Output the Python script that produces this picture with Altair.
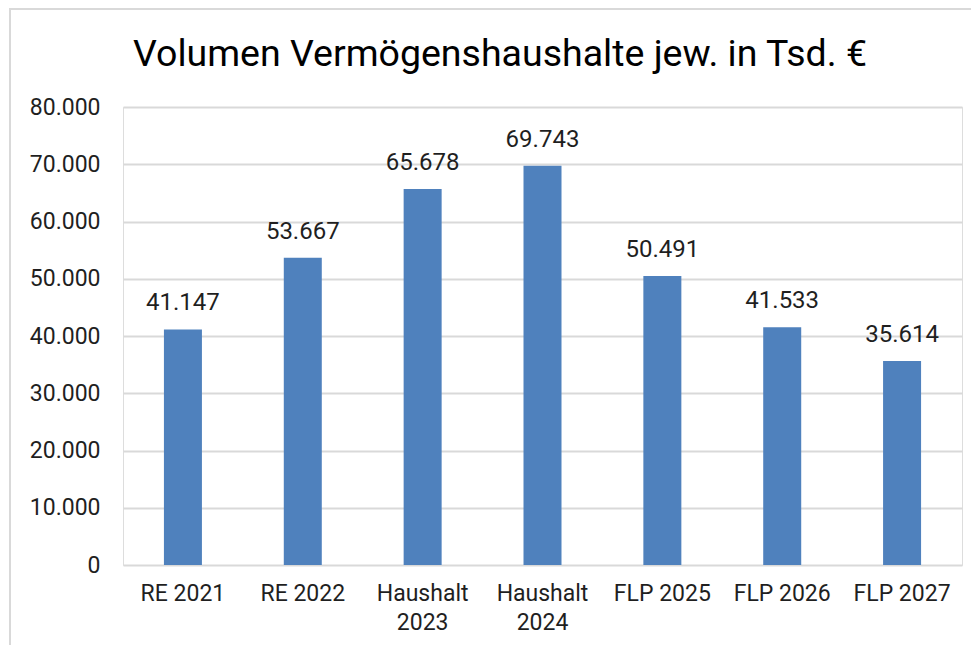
import altair as alt
import pandas as pd

title_text = "Volumen Vermögenshaushalte jew. in Tsd. €"
categories = ["RE 2021", "RE 2022", "Haushalt 2023", "Haushalt 2024", "FLP 2025", "FLP 2026", "FLP 2027"]
values = [41147, 53667, 65678, 69743, 50491, 41533, 35614]
y_ticks = [0, 10000, 20000, 30000, 40000, 50000, 60000, 70000, 80000]

df = pd.DataFrame({
    "Kategorie": categories,
    "Wert": values,
    "Label": [f"{v:,}".replace(",", ".") for v in values],
})

FONT = "Roboto"
TXT = "#1f1f1f"

x_enc = alt.X(
    "Kategorie:N", sort=categories, title=None,
    scale=alt.Scale(paddingInner=0, paddingOuter=0),
    axis=alt.Axis(
        labelExpr="indexof(datum.value, 'Haushalt') == 0 ? split(datum.value, ' ') : datum.value",
        labelAngle=0, labelFont=FONT, labelFontSize=23, labelColor=TXT,
        labelPadding=17, labelLineHeight=29, ticks=False, domain=False,
        labelBaseline="top", grid=False,
    ),
)
y_enc = alt.Y(
    "Wert:Q", title=None,
    scale=alt.Scale(domain=[0, 80000], nice=False),
    axis=alt.Axis(
        values=y_ticks,
        labelExpr="replace(format(datum.value, ','), ',', '.')",
        labelFont=FONT, labelFontSize=23, labelColor=TXT, labelPadding=23,
        ticks=False, domain=False, gridColor="#d9d9d9", gridWidth=2,
    ),
)

bars = alt.Chart(df).mark_bar(size=38, color="#4f81bd").encode(x=x_enc, y=y_enc)
labels = alt.Chart(df).mark_text(
    font=FONT, fontSize=24, color=TXT, baseline="alphabetic", dy=-19
).encode(x=alt.X("Kategorie:N", sort=categories), y="Wert:Q", text="Label:N")

border = alt.Chart(pd.DataFrame({"a": [0]})).mark_rect(
    fill="transparent", stroke="#d9d9d9", strokeWidth=2
).encode(x=alt.value(-113), x2=alt.value(900), y=alt.value(-98), y2=alt.value(600))

title = alt.Chart(pd.DataFrame({"t": [title_text]})).mark_text(
    font=FONT, fontSize=37.5, color="#000000", align="center", baseline="alphabetic"
).encode(x=alt.value(377), y=alt.value(-41), text="t:N")

chart = alt.layer(border, bars, labels, title).properties(
    width=839, height=458,
    autosize=alt.AutoSizeParams(type="none"),
    padding={"left": 115, "top": 99, "right": 9, "bottom": 80},
).configure_view(stroke=None).configure(background="white")

chart.save("out.html", embed_options={"renderer": "svg", "actions": False})
